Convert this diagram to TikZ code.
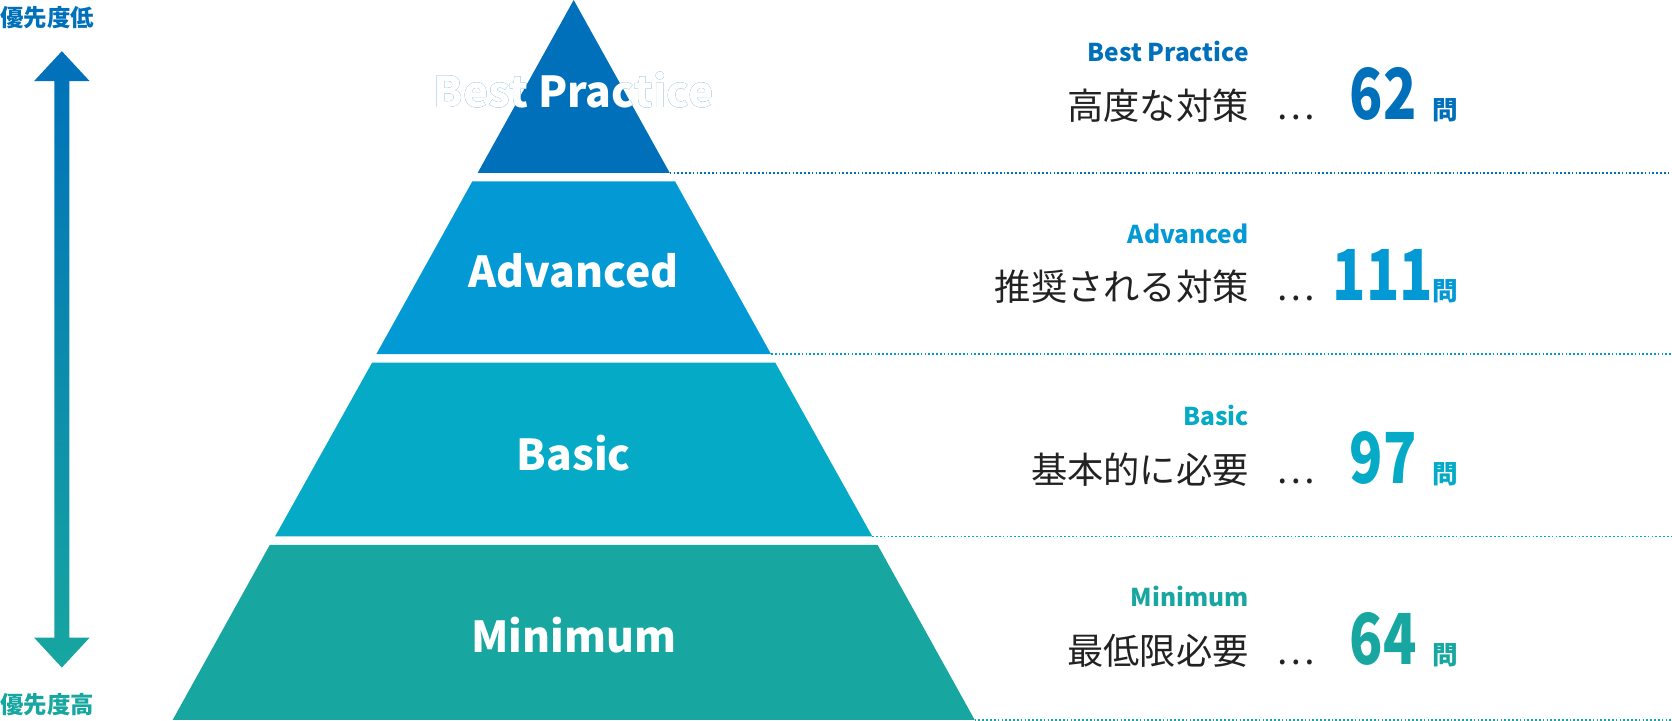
\documentclass[tikz,border=0pt]{standalone}
\usepackage{fontspec}
\setmainfont{Noto Sans CJK JP}
\usepackage[outline]{contour}
\contourlength{0.6pt}
\definecolor{cB}{HTML}{0070BA}
\definecolor{cA}{HTML}{0399D4}
\definecolor{cS}{HTML}{04AAC6}
\definecolor{cM}{HTML}{17A6A0}
\definecolor{tx}{HTML}{222222}
\begin{document}
\begin{tikzpicture}[x=0.5pt,y=-0.5pt,
 lay/.style={font=\bfseries\fontsize{20}{20}\selectfont,text=white},
 dot/.style={densely dotted,line width=0.8pt},
 tag/.style={anchor=base east,font=\bfseries\fontsize{11.5}{12}\selectfont},
 jp/.style={anchor=base east,font=\fontsize{17}{18}\selectfont,text=tx},
 num/.style={anchor=base,font=\bfseries\fontsize{33}{33}\selectfont},
 mon/.style={anchor=base west,font=\bfseries\fontsize{12}{12}\selectfont}]
\useasboundingbox (0,0) rectangle (1568,676);
\fill[cB] (538,0) -- (628,162) -- (448,162) -- cycle;
\fill[cA] (443,170) -- (633,170) -- (723,332) -- (353,332) -- cycle;
\fill[cS] (349,340) -- (727,340) -- (818,503) -- (258,503) -- cycle;
\fill[cM] (253,511) -- (823,511) -- (914,675) -- (162,675) -- cycle;
\node[lay] (lb) at (538,84) {\contour{cB}{Best Practice}};
\node[lay] (la) at (538,254) {Advanced};
\node[lay] (ls) at (538,425) {Basic};
\node[lay] (lm) at (538,596) {Minimum};
\draw[dot,cB] (628,162) -- (1568,162);
\draw[dot,cA] (723,332) -- (1568,332);
\draw[dot,cS] (818,503) -- (1568,503);
\draw[dot,cM] (914,675) -- (1568,675);
% arrow
\shade[top color=cB,bottom color=cM] (58,48) -- (84,76) -- (65,76) -- (65,598) -- (84,598) -- (58,626) -- (32,598) -- (51,598) -- (51,76) -- (32,76) -- cycle;
\node[anchor=north west,inner sep=0,font=\bfseries\fontsize{11}{11}\selectfont,text=cB] (hi) at (0,6) {優先度低};
\node[anchor=south west,inner sep=0,font=\bfseries\fontsize{11}{11}\selectfont,text=cM] (lo) at (0,672) {優先度高};
% right texts
\foreach \y/\c/\t/\j/\n in {0/cB/Best Practice/高度な対策/62,170/cA/Advanced/推奨される対策/111,341/cS/Basic/基本的に必要/97,511/cM/Minimum/最低限必要/64}{
 \node[tag,text=\c] at (1178,\y+58) {\t};
 \node[jp] at (1178,\y+112) {\j};
 \node[anchor=base,font=\fontsize{17}{18}\selectfont,text=tx] at (1215,\y+112) {…};
 \node[num,text=\c] at (1297,\y+112) {\scalebox{0.78}[1]{\n}};
 \node[mon,text=\c] at (1336,\y+112) {問};
}
\end{tikzpicture}
\end{document}
